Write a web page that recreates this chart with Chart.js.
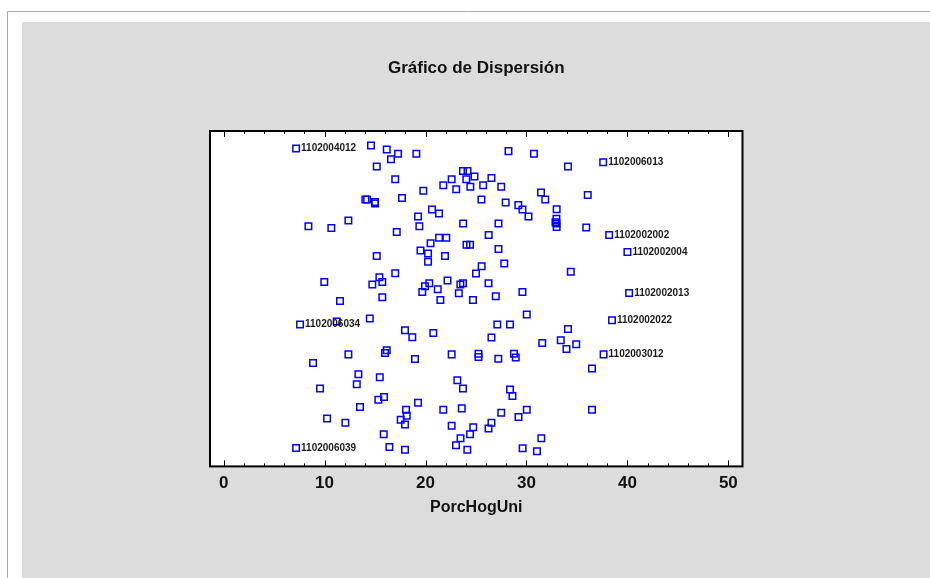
<!DOCTYPE html>
<html>
<head>
<meta charset="utf-8">
<script src="https://cdn.jsdelivr.net/npm/chart.js@4/dist/chart.umd.min.js"></script>
<style>
  html, body { margin: 0; padding: 0; background: #ffffff; }
  canvas { display: block; }
</style>
</head>
<body>
<canvas id="c" width="930" height="578"></canvas>
<script>
// Porcentaje de hogares unipersonales (eje X) y desplazamiento vertical aleatorio de cada punto.
// Los primeros nueve puntos llevan su identificador.
const pointIds = ['1102004012', '1102006013', '1102002002', '1102002004', '1102002013',
                  '1102002022', '1102006034', '1102003012', '1102006039'];

const porcHogUni = [
  7.18, 37.60, 38.19, 40.00, 40.17, 38.47, 7.57, 37.64, 7.18,
  14.60, 16.16, 17.28, 16.58, 15.17, 17.00, 17.67, 14.04, 14.21, 15.00,
  15.00, 12.36, 8.40, 10.67, 17.15, 15.17, 17.00, 15.43, 9.97, 14.73,
  15.72, 11.53, 15.72, 19.09, 28.22, 23.71, 24.16, 22.59, 24.04, 24.85,
  26.53, 21.76, 23.04, 24.44, 25.71, 27.50, 19.78, 25.54, 27.94, 20.64,
  21.34, 19.26, 19.39, 23.73, 27.23, 26.26, 21.34, 22.06, 20.50, 24.06,
  24.41, 19.50, 20.25, 21.93, 27.23, 20.25, 25.56, 27.80, 25.00, 20.37,
  19.95, 22.18, 23.45, 23.71, 26.24, 21.21, 19.68, 23.30, 21.47, 24.70,
  26.96, 30.74, 34.11, 31.44, 31.86, 36.07, 29.19, 29.60, 30.20, 32.99,
  32.97, 32.87, 32.97, 32.99, 35.92, 34.39, 29.60,
  11.21, 14.48, 17.97, 12.36, 8.86, 16.16, 15.99, 13.35, 13.19, 15.47,
  9.55, 15.33, 15.89, 13.51, 10.25, 12.06, 18.07, 17.54, 17.97, 15.86,
  16.42, 17.97, 18.69, 20.77, 27.11, 28.37, 26.53, 18.96, 22.59, 25.25,
  25.25, 27.21, 28.76, 28.94, 23.15, 23.71, 28.37, 28.61, 19.26, 18.14,
  21.76, 23.59, 27.50, 22.59, 24.73, 26.53, 26.24, 24.41, 23.47, 23.02,
  24.14, 30.03, 34.11, 31.56, 33.40, 33.96, 34.93, 36.49, 30.03, 29.21,
  36.49, 31.47, 29.62, 31.04
];

const jitter = [
  94.8, 90.7, 69.0, 63.9, 51.7, 43.6, 42.3, 33.4, 5.5,
  95.7, 94.5, 93.2, 91.6, 89.4, 85.6, 80.0, 79.6, 79.6, 78.8,
  78.4, 73.3, 71.6, 71.1, 69.9, 62.7, 57.6, 56.4, 55.0, 54.2,
  55.0, 49.3, 50.4, 93.2, 94.0, 88.1, 88.1, 85.6, 85.6, 86.4,
  86.0, 83.8, 82.6, 83.4, 83.8, 83.4, 82.2, 79.6, 78.7, 76.6,
  75.4, 74.5, 71.6, 72.4, 72.4, 69.0, 68.2, 68.2, 66.5, 66.1,
  66.1, 64.4, 63.5, 62.7, 64.8, 61.0, 59.7, 60.5, 57.5, 54.6,
  53.7, 55.4, 54.2, 54.6, 54.6, 52.8, 52.0, 51.6, 49.6, 49.6,
  50.7, 93.2, 89.4, 81.7, 79.6, 80.9, 77.9, 76.6, 74.5, 76.7,
  73.8, 72.8, 72.4, 71.4, 71.2, 58.0, 52.0,
  43.2, 44.1, 40.6, 33.4, 30.8, 34.6, 33.8, 27.5, 24.5, 26.6,
  23.2, 19.9, 20.7, 17.7, 14.3, 13.0, 16.9, 13.9, 12.5, 9.6,
  5.8, 5.0, 38.5, 39.8, 42.3, 42.3, 38.4, 32.0, 33.4, 33.6,
  32.6, 32.1, 33.6, 32.5, 25.7, 23.2, 22.9, 21.0, 19.0, 15.1,
  16.9, 17.3, 16.0, 12.1, 11.7, 13.0, 11.3, 9.6, 8.4, 6.3,
  5.0, 45.3, 41.0, 36.8, 37.6, 35.0, 36.4, 29.2, 16.9, 14.7,
  16.9, 8.4, 5.4, 4.5
];

const xTickValues = [0, 10, 20, 30, 40, 50];
const xMinorStep = 2;

const points = porcHogUni.map((v, i) => ({ x: v, y: jitter[i] }));

const FONT = "'Liberation Sans', Arial, sans-serif";

// Fondo: página blanca con marco gris claro y panel gris.
const panelBackground = {
  id: 'panelBackground',
  beforeDraw(chart) {
    const { ctx, width, height } = chart;
    ctx.save();
    ctx.fillStyle = '#ffffff';
    ctx.fillRect(0, 0, width, height);
    ctx.strokeStyle = '#a8a8a8';
    ctx.lineWidth = 1;
    ctx.beginPath();
    ctx.moveTo(7.5, height);
    ctx.lineTo(7.5, 11.5);
    ctx.lineTo(width, 11.5);
    ctx.stroke();
    ctx.fillStyle = '#dcdcdc';
    ctx.fillRect(22, 22, width - 22, height - 22);
    const a = chart.chartArea;
    ctx.fillStyle = '#ffffff';
    ctx.fillRect(a.left, a.top, a.right - a.left, a.bottom - a.top);
    ctx.restore();
  }
};

// Marco del área de trazado y marcas de graduación hacia dentro (arriba y abajo).
const plotFrame = {
  id: 'plotFrame',
  afterDatasetsDraw(chart) {
    const { ctx } = chart;
    const a = chart.chartArea;
    const xs = chart.scales.x;
    ctx.save();
    ctx.strokeStyle = '#000000';
    ctx.lineWidth = 1;
    for (let v = xTickValues[0]; v <= xTickValues[xTickValues.length - 1] + 1e-9; v += xMinorStep) {
      const px = Math.round(xs.getPixelForValue(v)) + 0.5;
      const major = xTickValues.includes(v);
      const len = major ? 6 : 3;
      ctx.beginPath();
      ctx.moveTo(px, a.top);
      ctx.lineTo(px, a.top + len);
      ctx.moveTo(px, a.bottom);
      ctx.lineTo(px, a.bottom - len);
      ctx.stroke();
    }
    ctx.lineWidth = 2;
    ctx.strokeRect(a.left, a.top, a.right - a.left, a.bottom - a.top);
    ctx.restore();
  }
};

// Identificadores junto a los puntos etiquetados.
const pointLabels = {
  id: 'pointLabels',
  afterDatasetsDraw(chart) {
    const { ctx } = chart;
    const meta = chart.getDatasetMeta(0);
    ctx.save();
    ctx.fillStyle = '#1a1a1a';
    ctx.font = `bold 10px ${FONT}`;
    ctx.textAlign = 'left';
    ctx.textBaseline = 'middle';
    pointIds.forEach((id, i) => {
      const el = meta.data[i];
      ctx.fillText(id, el.x + 5, el.y);
    });
    ctx.restore();
  }
};

new Chart(document.getElementById('c'), {
  type: 'scatter',
  data: {
    datasets: [{
      data: points,
      pointStyle: 'rect',
      pointRadius: 4.6,
      pointHoverRadius: 4.6,
      borderColor: '#0000ff',
      backgroundColor: 'rgba(0,0,0,0)',
      borderWidth: 1.5
    }]
  },
  options: {
    responsive: false,
    animation: false,
    devicePixelRatio: 1,
    events: [],
    layout: { padding: { left: 210, right: 187.5, top: 15, bottom: 61 } },
    plugins: {
      legend: { display: false },
      tooltip: { enabled: false },
      title: {
        display: true,
        text: 'Gráfico de Dispersión',
        color: '#111111',
        font: { family: FONT, size: 17, weight: 'bold' },
        padding: { top: 42.8, bottom: 52.8 }
      }
    },
    scales: {
      x: {
        type: 'linear',
        min: -1.35,
        max: 51.4,
        afterBuildTicks(scale) {
          scale.ticks = xTickValues.map(v => ({ value: v }));
        },
        grid: { display: false, drawTicks: false },
        border: { display: false },
        ticks: {
          color: '#111111',
          padding: 7,
          maxRotation: 0,
          font: { family: FONT, size: 17, weight: 'bold' }
        },
        title: {
          display: true,
          text: 'PorcHogUni',
          color: '#111111',
          font: { family: FONT, size: 16, weight: 'bold' },
          padding: { top: -3, bottom: 0 }
        }
      },
      y: { display: false, min: 0, max: 100 }
    }
  },
  plugins: [panelBackground, plotFrame, pointLabels]
});
</script>
</body>
</html>
